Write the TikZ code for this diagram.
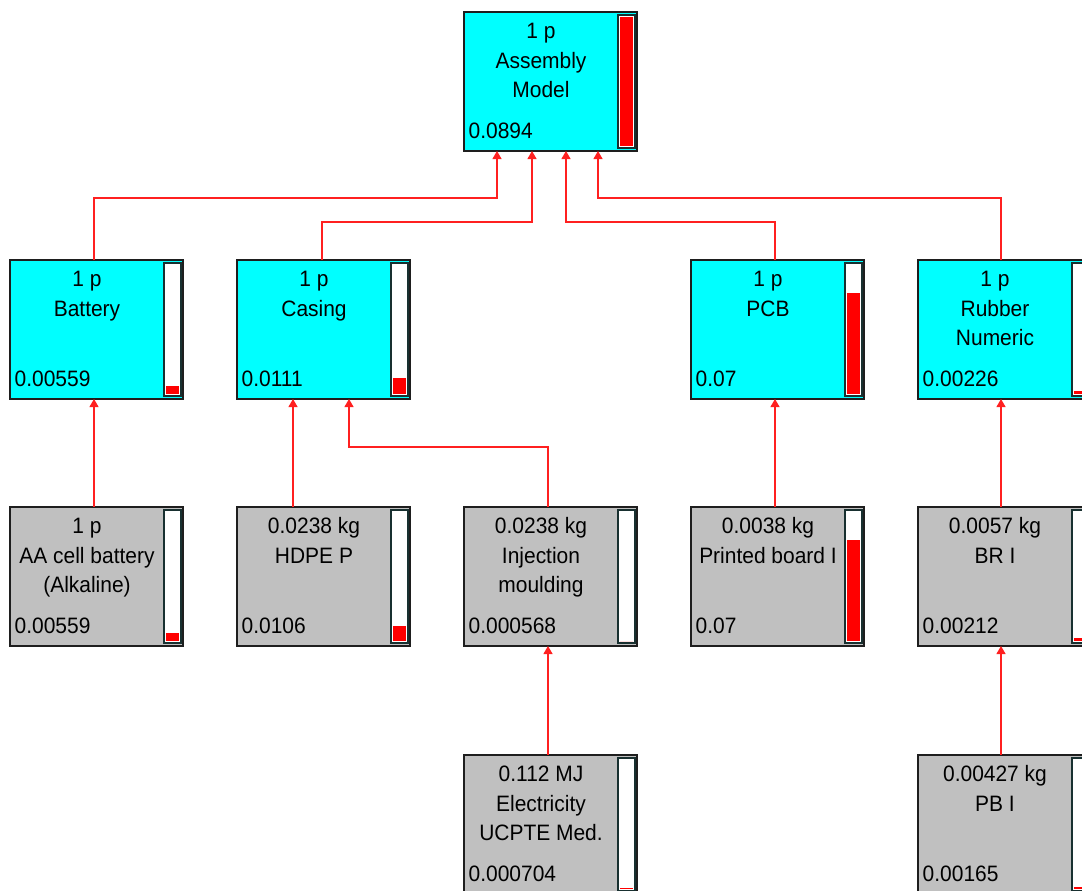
\documentclass[tikz,border=0pt]{standalone}
\usepackage{fontspec}
\setmainfont{Liberation Sans}[FakeStretch=0.94]
\usetikzlibrary{arrows.meta,calc}
\definecolor{cyanbox}{HTML}{00FFFF}
\definecolor{greybox}{HTML}{C0C0C0}
\definecolor{barred}{HTML}{FF0000}
\definecolor{connred}{HTML}{FF2020}
\definecolor{edge}{HTML}{1E1E1E}
\definecolor{baredge}{HTML}{183030}
\tikzset{
  boxst/.style={draw=edge, line width=1.3pt, minimum width=173pt, minimum height=139pt, inner sep=0pt, outer sep=0pt},
  titlest/.style={inner sep=0pt, align=center, font=\fontsize{22.3}{29.5}\selectfont, text=black},
  valst/.style={inner sep=0pt, font=\fontsize{22.3}{26}\selectfont, text=black},
  barst/.style={draw=baredge, line width=1.5pt, fill=white},
  fillst/.style={fill=barred},
  conn/.style={draw=connred, line width=1.1pt, -{Triangle[width=9pt,length=8pt]}}
}
\newcommand\lcabox[7]{%
  \node[boxst, fill=#4, anchor=north west] (#1) at (#2,#3) {};
  \node[titlest, anchor=north] (#1-t) at ($(#1.north west)+(77,9.5)$) {\rule{0pt}{17pt}#5};
  \node[valst, anchor=base west] (#1-v) at ($(#1.south west)+(4.5,-12.5)$) {#6};
  \draw[barst] ($(#1.north east)+(-19,3)$) rectangle ($(#1.south east)+(-2,-3)$);
  \fill[fillst] ($(#1.south east)+(-17,-5)$) rectangle ($(#1.south east)+(-4,-5-#7)$);
}
\begin{document}
\begin{tikzpicture}[x=1pt,y=-1pt]
\clip (0,0) rectangle (1082,891);
\fill[white] (0,0) rectangle (1082,891);
% top
\lcabox{top}{464}{12}{cyanbox}{1 p\\Assembly\\Model}{0.0894}{129}
% row 2
\lcabox{bat}{10}{260}{cyanbox}{1 p\\Battery}{0.00559}{8.5}
\lcabox{cas}{237}{260}{cyanbox}{1 p\\Casing}{0.0111}{16}
\lcabox{pcb}{691}{260}{cyanbox}{1 p\\PCB}{0.07}{101}
\lcabox{rub}{918}{260}{cyanbox}{1 p\\Rubber\\Numeric}{0.00226}{3.3}
% row 3
\lcabox{aa}{10}{507}{greybox}{1 p\\AA cell battery\\(Alkaline)}{0.00559}{8.5}
\lcabox{hdpe}{237}{507}{greybox}{0.0238 kg\\HDPE P}{0.0106}{15.3}
\lcabox{inj}{464}{507}{greybox}{0.0238 kg\\Injection\\moulding}{0.000568}{0}
\lcabox{prb}{691}{507}{greybox}{0.0038 kg\\Printed board I}{0.07}{101}
\lcabox{br}{918}{507}{greybox}{0.0057 kg\\BR I}{0.00212}{3.1}
% row 4
\lcabox{ele}{464}{755}{greybox}{0.112 MJ\\Electricity\\UCPTE Med.}{0.000704}{1.5}
\lcabox{pb}{918}{755}{greybox}{0.00427 kg\\PB I}{0.00165}{2.4}
% connectors
\draw[conn] ($(aa.north west)+(84,0)$) -- ($(bat.south west)+(84,0)$);
\draw[conn] ($(hdpe.north west)+(56,0)$) -- ($(cas.south west)+(56,0)$);
\draw[conn] ($(inj.north west)+(84,0)$) |- ($(cas.south west)+(112,48)$) -- ($(cas.south west)+(112,0)$);
\draw[conn] ($(prb.north west)+(84,0)$) -- ($(pcb.south west)+(84,0)$);
\draw[conn] ($(br.north west)+(83,0)$) -- ($(rub.south west)+(83,0)$);
\draw[conn] ($(ele.north west)+(84,0)$) -- ($(inj.south west)+(84,0)$);
\draw[conn] ($(pb.north west)+(83,0)$) -- ($(br.south west)+(83,0)$);
\draw[conn] ($(bat.north west)+(84,0)$) |- ($(top.south west)+(33,47)$) -- ($(top.south west)+(33,0)$);
\draw[conn] ($(cas.north west)+(85,0)$) |- ($(top.south west)+(68,71)$) -- ($(top.south west)+(68,0)$);
\draw[conn] ($(pcb.north west)+(84,0)$) |- ($(top.south west)+(102,71)$) -- ($(top.south west)+(102,0)$);
\draw[conn] ($(rub.north west)+(83,0)$) |- ($(top.south west)+(134,47)$) -- ($(top.south west)+(134,0)$);
\end{tikzpicture}
\end{document}
